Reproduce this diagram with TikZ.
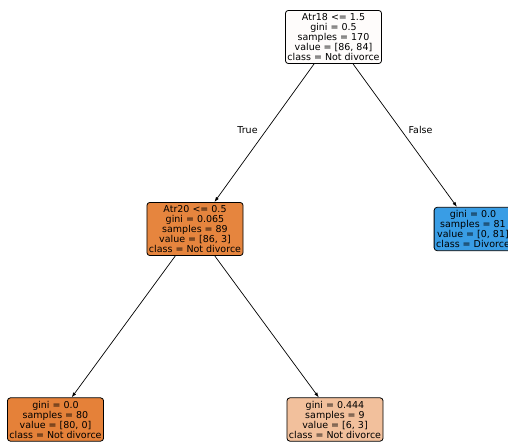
\documentclass[tikz,border=0pt]{standalone}
\usepackage{fontspec}
\setmainfont{DejaVu Sans}
\usetikzlibrary{arrows.meta, positioning}

\definecolor{rootfill}{RGB}{254,252,251}
\definecolor{leftfill}{RGB}{230,133,62}
\definecolor{purefill}{RGB}{229,129,57}
\definecolor{lightfill}{RGB}{242,192,156}
\definecolor{bluefill}{RGB}{57,157,229}

\begin{document}
\begin{tikzpicture}[
		x=1pt, y=-1pt,
		treenode/.style={rectangle, draw=black, line width=0.8pt, rounded corners=3pt, align=center, inner xsep=2pt, inner ysep=3pt, font=\fontsize{9.5}{10}\selectfont},
		arrow/.style={-{Latex[length=5pt, width=3.5pt]}, line width=0.7pt, draw=black},
		edgelabel/.style={font=\fontsize{9.5}{10}\selectfont}
		]
		\useasboundingbox (0,0) rectangle (508,443);
		
		% Root split
		\node[treenode, fill=rootfill] (root) at (333.5,37) {Atr18 <= 1.5\\gini = 0.5\\samples = 170\\value = [86, 84]\\class = Not divorce};
		
		% Second level
		\node[treenode, fill=leftfill] (atr20) at (195,229) {Atr20 <= 0.5\\gini = 0.065\\samples = 89\\value = [86, 3]\\class = Not divorce};
		\node[treenode, fill=bluefill] (divorce) at (473,229) {gini = 0.0\\samples = 81\\value = [0, 81]\\class = Divorce};
		
		% Leaves
		\node[treenode, fill=purefill] (leafa) at (55.5,419.5) {gini = 0.0\\samples = 80\\value = [80, 0]\\class = Not divorce};
		\node[treenode, fill=lightfill] (leafb) at (335,419.5) {gini = 0.444\\samples = 9\\value = [6, 3]\\class = Not divorce};
		
		% Edges
		\draw[arrow] (root) -- (atr20);
		\draw[arrow] (root) -- (divorce);
		\draw[arrow] (atr20) -- (leafa);
		\draw[arrow] (atr20) -- (leafb);
		
		% Edge labels
		\node[edgelabel] (truelbl) at (247.5,130) {True};
		\node[edgelabel] (falselbl) at (420.5,130) {False};
		
	\end{tikzpicture}
\end{document}
